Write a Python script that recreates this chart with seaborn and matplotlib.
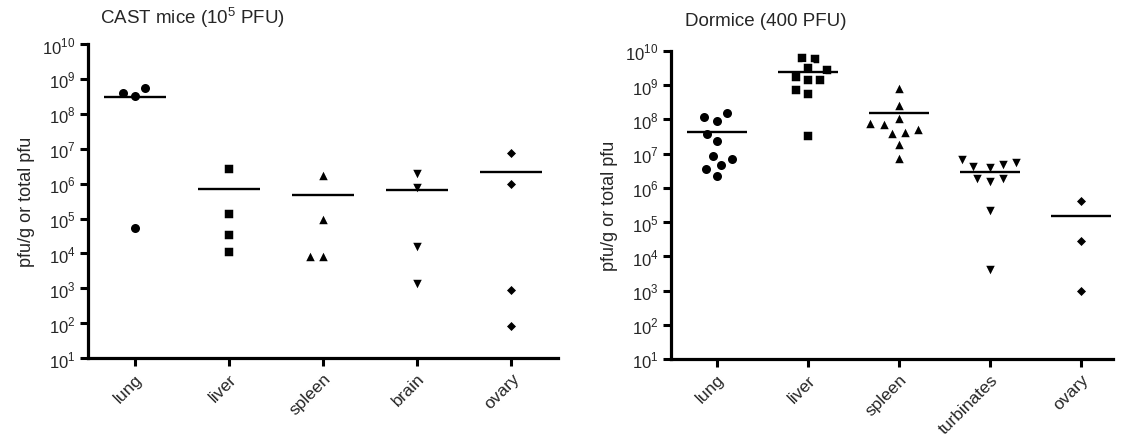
import numpy as np
import matplotlib
matplotlib.use("Agg")
import matplotlib.pyplot as plt
import seaborn as sns

sns.set_style("ticks")
plt.rcParams['font.family'] = ['Liberation Sans', 'DejaVu Sans']
plt.rcParams['mathtext.fontset'] = 'custom'
plt.rcParams['mathtext.rm'] = 'Liberation Sans'

# CAST mice (10^5 PFU)
cast_tissues = ['lung', 'liver', 'spleen', 'brain', 'ovary']
cast_lung = [4.0e8, 3.2e8, 5.4e8, 5.3e4]
cast_liver = [2.7e6, 1.4e5, 3.4e4, 1.1e4]
cast_spleen = [1.8e6, 9.6e4, 8.2e3, 8.2e3]
cast_brain = [1.9e6, 7.3e5, 1.5e4, 1.3e3]
cast_ovary = [7.5e6, 9.7e5, 910, 85]

# Dormice (400 PFU)
dorm_tissues = ['lung', 'liver', 'spleen', 'turbinates', 'ovary']
dorm_lung = [1.15e8, 9.2e7, 1.5e8, 3.8e7, 2.3e7, 8.7e6, 6.9e6, 4.7e6, 3.5e6, 2.2e6]
dorm_liver = [6.3e9, 5.9e9, 3.1e9, 2.8e9, 1.8e9, 1.45e9, 1.4e9, 7.4e8, 5.6e8, 3.3e7]
dorm_spleen = [8.3e8, 2.6e8, 1.1e8, 7.4e7, 7.8e7, 4.4e7, 3.9e7, 5.2e7, 1.9e7, 7.4e6]
dorm_turbinates = [6.5e6, 4.7e6, 5.2e6, 4.0e6, 3.7e6, 1.8e6, 1.5e6, 1.8e6, 2.1e5, 4.1e3]
dorm_ovary = [4.2e5, 2.9e4, 940]

markers = ['o', 's', '^', 'v', 'D']
msizes = [6.5, 6.3, 6.8, 6.8, 4.6]
gap = 1.1  # white edge keeps swarm points apart


def panel(ax, tissues, groups, title, tx, ty):
    ax.set_yscale('log')
    for i, (tissue, vals) in enumerate(zip(tissues, groups)):
        sns.swarmplot(x=[tissue] * len(vals), y=vals, order=tissues, ax=ax,
                      color='black', marker=markers[i], size=msizes[i] + gap,
                      linewidth=gap, edgecolor='white')
        ax.hlines(np.mean(vals), i - 0.33, i + 0.33, color='black', lw=1.7, zorder=5)
    ax.set_ylim(10, 1e10)
    ax.set_yticks([10.0 ** k for k in range(1, 11)])
    ax.set_yticklabels([r'$10^{%d}$' % k for k in range(1, 11)])
    ax.minorticks_off()
    ax.set_xlim(-0.5, 4.5)
    ax.set_xticks(range(len(tissues)))
    ax.set_xticklabels(tissues, rotation=45, ha='right', rotation_mode='anchor')
    ax.tick_params(axis='both', width=2.2, length=6, color='black')
    ax.tick_params(axis='x', pad=3, labelsize=12.5)
    ax.tick_params(axis='y', pad=3, labelsize=12)
    for s in ['left', 'bottom']:
        ax.spines[s].set_linewidth(2.3)
        ax.spines[s].set_color('black')
    sns.despine(ax=ax)
    ax.set_xlabel('')
    ax.set_ylabel('pfu/g or total pfu', fontsize=13, labelpad=5)
    ax.text(tx, ty, title, transform=ax.transAxes, fontsize=13.5, ha='left', va='bottom')


fig = plt.figure(figsize=(11.42, 4.39), dpi=100)
ax1 = fig.add_axes([0.077, 0.182, 0.412, 0.715])
ax2 = fig.add_axes([0.5876, 0.18, 0.387, 0.7015])

panel(ax1, cast_tissues, [cast_lung, cast_liver, cast_spleen, cast_brain, cast_ovary],
      r'CAST mice (10$^{5}$ PFU)', 0.025, 1.05)
panel(ax2, dorm_tissues, [dorm_lung, dorm_liver, dorm_spleen, dorm_turbinates, dorm_ovary],
      'Dormice (400 PFU)', 0.032, 1.07)
ax2.set_xlim(-0.5, 4.35)

fig.savefig('out.png', dpi=100)
